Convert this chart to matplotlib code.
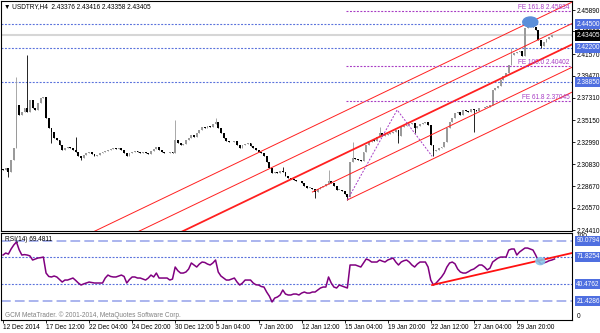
import numpy as np
import matplotlib.pyplot as plt
from matplotlib.patches import Ellipse

# USDTRY H4, 12 Dec 2014 - 30 Jan 2015
ohlc_title = "\u25bc USDTRY,H4  2.43376 2.43416 2.43358 2.43405"

first_open = 2.3040
closes = [
    2.3027, 2.3047, 2.3008, 2.3125, 2.3242, 2.3662, 2.3564, 2.3594, 2.3633, 2.3594,
    2.3711, 2.3633, 2.3613, 2.3681, 2.3730, 2.3740, 2.3535, 2.3437, 2.3398, 2.3340,
    2.3320, 2.3271, 2.3223, 2.3242, 2.3252, 2.3242, 2.3223, 2.3203, 2.3164, 2.3145,
    2.3174, 2.3193, 2.3203, 2.3184, 2.3164, 2.3174, 2.3193, 2.3203, 2.3213, 2.3223,
    2.3232, 2.3242, 2.3232, 2.3242, 2.3223, 2.3193, 2.3164, 2.3193, 2.3203, 2.3213,
    2.3203, 2.3193, 2.3203, 2.3193, 2.3184, 2.3213, 2.3232, 2.3252, 2.3223, 2.3203,
    2.3193, 2.3190, 2.3203, 2.3193, 2.3320, 2.3291, 2.3271, 2.3281, 2.3320, 2.3340,
    2.3369, 2.3350, 2.3389, 2.3418, 2.3447, 2.3437, 2.3457, 2.3447, 2.3477, 2.3496,
    2.3437, 2.3389, 2.3340, 2.3310, 2.3301, 2.3298, 2.3310, 2.3271, 2.3242, 2.3271,
    2.3281, 2.3291, 2.3262, 2.3242, 2.3223, 2.3203, 2.3193, 2.3164, 2.3105, 2.3047,
    2.2998, 2.3008, 2.2998, 2.3018, 2.3008, 2.2969, 2.2949, 2.2939, 2.2930, 2.2920,
    2.2917, 2.2900, 2.2871, 2.2852, 2.2855, 2.2842, 2.2813, 2.2842, 2.2862, 2.2871,
    2.2891, 2.2920, 2.2900, 2.2871, 2.2832, 2.2835, 2.2822, 2.2793, 2.2764, 2.3105,
    2.3145, 2.3135, 2.3125, 2.3115, 2.3203, 2.3271, 2.3301, 2.3320, 2.3310, 2.3350,
    2.3389, 2.3359, 2.3369, 2.3379, 2.3389, 2.3398, 2.3418, 2.3359, 2.3447, 2.3457,
    2.3467, 2.3477, 2.3486, 2.3437, 2.3457, 2.3477, 2.3486, 2.3496, 2.3467, 2.3271,
    2.3213, 2.3223, 2.3242, 2.3252, 2.3301, 2.3437, 2.3496, 2.3535, 2.3584, 2.3594,
    2.3564, 2.3613, 2.3603, 2.3594, 2.3623, 2.3613, 2.3603, 2.3633, 2.3630, 2.3642,
    2.3645, 2.3662, 2.3808, 2.3828, 2.3847, 2.3906, 2.3945, 2.3974, 2.4052, 2.4150,
    2.4169, 2.4179, 2.4189, 2.4140, 2.4413, 2.4472, 2.4452, 2.4423, 2.4394, 2.4296,
    2.4238, 2.4277, 2.4306, 2.4326, 2.4345, 2.43405,
]
# long wicks that stand out in the picture (bar index: price)
spike_highs = {5: 2.3935, 9: 2.4150, 27: 2.3350, 64: 2.3516, 79: 2.3535, 104: 2.3057,
               121: 2.3027, 130: 2.3301, 140: 2.3447, 189: 2.4218, 195: 2.4491}
spike_lows = {2: 2.2959, 18: 2.3291, 29: 2.3125, 116: 2.2754, 128: 2.2735, 147: 2.3291,
              153: 2.3389, 160: 2.3161, 175: 2.3398, 200: 2.4218}

rsi_values = [
    74.0, 76.3, 75.1, 80.9, 85.5, 88.9, 80.0, 74.0, 74.5, 74.0,
    73.0, 68.3, 69.5, 70.6, 71.0, 71.7, 53.4, 49.5, 48.9, 50.0,
    48.9, 46.0, 43.1, 45.4, 45.4, 46.5, 47.7, 45.0, 42.0, 39.7,
    41.0, 42.0, 43.1, 42.5, 42.0, 42.0, 42.0, 42.0, 47.7, 51.1,
    49.5, 48.9, 48.9, 50.0, 51.1, 49.5, 42.0, 46.0, 48.9, 48.9,
    47.7, 47.7, 46.5, 45.4, 47.7, 51.1, 48.9, 53.4, 47.7, 47.7,
    47.7, 47.7, 45.4, 46.5, 60.3, 56.0, 53.4, 53.4, 54.6, 58.0,
    64.9, 62.6, 60.3, 63.7, 66.0, 65.5, 63.7, 62.6, 64.9, 68.3,
    54.6, 50.0, 47.7, 45.4, 45.4, 46.5, 47.7, 43.1, 39.7, 42.0,
    45.4, 45.4, 45.4, 42.0, 40.0, 39.7, 38.0, 37.4, 31.7, 27.0,
    20.3, 24.8, 26.0, 28.3, 34.0, 29.4, 28.3, 28.3, 29.4, 29.4,
    28.3, 30.5, 31.7, 30.5, 30.5, 31.7, 31.7, 34.0, 36.3, 37.4,
    37.4, 48.9, 42.0, 37.4, 36.3, 39.7, 38.5, 37.4, 36.3, 62.6,
    62.6, 62.6, 61.5, 60.3, 65.0, 69.5, 68.3, 66.0, 66.0, 66.0,
    68.3, 67.0, 66.0, 68.3, 69.5, 70.6, 66.0, 62.6, 66.0, 67.5,
    68.3, 66.0, 62.6, 60.3, 63.7, 66.0, 66.0, 66.0, 60.3, 45.4,
    39.7, 42.0, 45.4, 48.9, 53.4, 60.3, 64.9, 66.0, 64.0, 58.0,
    54.6, 53.4, 53.4, 55.0, 56.9, 58.0, 60.3, 62.6, 62.6, 60.3,
    57.0, 59.0, 66.0, 68.3, 70.6, 71.7, 71.7, 71.7, 79.7, 80.9,
    80.9, 74.0, 77.5, 79.7, 82.0, 82.0, 80.9, 79.7, 74.0, 67.0,
    63.7, 65.0, 66.0, 67.5, 68.3, 69.48,
]

date_labels = ["12 Dec 2014", "17 Dec 12:00", "22 Dec 04:00", "24 Dec 20:00",
               "30 Dec 12:00", "5 Jan 04:00", "7 Jan 20:00", "12 Jan 12:00",
               "15 Jan 04:00", "19 Jan 20:00", "22 Jan 12:00", "27 Jan 04:00",
               "29 Jan 20:00"]
date_label_bars = [0, 16, 32, 48, 64, 79, 95, 111, 127, 143, 159, 175, 191]

price_ticks = [2.45890, 2.43800, 2.41570, 2.39470, 2.37310, 2.35150, 2.32990,
               2.30830, 2.28670, 2.26570, 2.24410]
line_levels = [2.44500, 2.42200, 2.38850]
bid_price = 2.43405

# Fibonacci expansion
fe_names = ["FE 161.8", "FE 100.0", "FE 61.8"]
fe_levels = [2.45834, 2.40402, 2.37045]
fe_anchor_bars = [128, 146.5, 159.5]
fe_anchor_prices = [2.2735, 2.3614, 2.3161]

# parallel channel lines (start point -> right edge)
channel_start_bars = [30, 45, 65, 115, 128]
channel_start_prices = [2.2379, 2.2360, 2.2407, 2.2813, 2.2735]
channel_end_bar = 211.5
channel_end_prices = [2.4666, 2.4457, 2.4253, 2.4030, 2.3787]

rsi_label = "RSI(14) 69.4811"
rsi_levels = [90.0794, 71.8254, 40.4762, 21.4286]
rsi_trend_bars = [159.5, 211.5]
rsi_trend_values = [39.7, 76.3]

copyright_text = "GCM MetaTrader. \u00a9 2001-2014, MetaQuotes Software Corp."

plt.rcParams['font.family'] = ['Liberation Sans', 'DejaVu Sans']
plt.rcParams['lines.scale_dashes'] = False
FS = 4.7
BLUE = '#5a72dc'
BOX_BLUE = '#4f6fe0'
PURPLE = '#a83cc4'
DOT = (0, (1.4, 1.1))


def price_box(ax, y, text, face):
    ax.text(1.0075, y, text, transform=ax.get_yaxis_transform(), fontsize=FS,
            color='white', va='center', ha='left', clip_on=False, zorder=6,
            bbox=dict(boxstyle='square,pad=0.25', fc=face, ec='none'))


fig = plt.figure(figsize=(6, 3.33), dpi=100)
W, H = 600, 333
ax = fig.add_axes([1 / W, (H - 231) / H, 571 / W, 230 / H])
ax_rsi = fig.add_axes([1 / W, (H - 320) / H, 571 / W, 87 / H], sharex=ax)

# ---- price panel ----
closes = np.array(closes)
opens = np.concatenate([[first_open], closes[:-1]])
highs = np.maximum(opens, closes)
lows = np.minimum(opens, closes)
for i, v in spike_highs.items():
    highs[i] = v
for i, v in spike_lows.items():
    lows[i] = v
bars = np.arange(len(closes))
up = closes >= opens
bull = '#9a9a9a'

ax.axhline(bid_price, color='#d6d6d6', lw=1.5, zorder=1)
for lv in line_levels:
    ax.axhline(lv, color=BLUE, lw=0.8, linestyle=DOT, zorder=1)

ax.vlines(bars[up], lows[up], highs[up], color=bull, lw=0.6, zorder=3)
ax.vlines(bars[~up], lows[~up], highs[~up], color='black', lw=0.6, zorder=3)
body = np.maximum(np.abs(closes - opens), 0.0007)
ax.bar(bars, body, bottom=np.minimum(opens, closes), width=0.7,
       color=np.where(up, bull, 'black'), linewidth=0, zorder=3)

for k in range(len(channel_start_bars)):
    lw = 1.3 if k == 2 else 0.7
    ax.plot([channel_start_bars[k], channel_end_bar],
            [channel_start_prices[k], channel_end_prices[k]],
            color='#ff2020', lw=lw, zorder=4)

ax.plot(fe_anchor_bars, fe_anchor_prices, color=PURPLE, lw=0.7, linestyle=DOT, zorder=4)
ax.hlines(fe_levels, fe_anchor_bars[0] - 0.5, channel_end_bar, colors=PURPLE,
          lw=0.8, linestyles=[DOT], zorder=4)
for name, lv in zip(fe_names, fe_levels):
    ax.text(0.996, lv, f"{name} {lv:.5f}", transform=ax.get_yaxis_transform(),
            fontsize=FS, color=PURPLE, ha='right', va='bottom', zorder=5)

ax.add_patch(Ellipse((196, 2.4472), 5.6, 0.0098, color='#5b8fd9', zorder=5))

ax.set_xlim(-0.75, channel_end_bar)
ax.set_ylim(2.2432, 2.4677)
ax.yaxis.tick_right()
ax.set_yticks(price_ticks)
ax.set_yticklabels([f"{t:.5f}" for t in price_ticks])
ax.tick_params(axis='y', direction='out', length=2, pad=1.5, labelsize=FS, width=0.6)
ax.tick_params(axis='x', bottom=False, labelbottom=False)
for sp in ax.spines.values():
    sp.set_linewidth(0.8)

for lv in line_levels:
    price_box(ax, lv, f"{lv:.5f}", BOX_BLUE)
price_box(ax, bid_price, f"{bid_price:.5f}", 'black')

fig.text(4 / W, 1 - 7 / H, ohlc_title, fontsize=FS, va='center', ha='left')

# ---- RSI panel ----
for lv in rsi_levels:
    if lv in (90.0794, 21.4286):
        ax_rsi.axhline(lv, color='#aab4ee', lw=1.4, linestyle=(0, (7, 3)), zorder=1)
    else:
        ax_rsi.axhline(lv, color=BLUE, lw=0.8, linestyle=DOT, zorder=1)

ax_rsi.plot(bars, rsi_values, color='#800080', lw=1.1, zorder=3)
ax_rsi.plot(rsi_trend_bars, rsi_trend_values, color='#ff1010', lw=1.3, zorder=4)
ax_rsi.add_patch(Ellipse((199.7, 67), 3.3, 8, color='#86c6ea', alpha=0.85, zorder=5))

ax_rsi.set_ylim(-0.3, 99.2)
ax_rsi.set_yticks([])
ax_rsi.set_xticks(date_label_bars)
ax_rsi.set_xticklabels(date_labels, ha='left')
ax_rsi.tick_params(axis='x', direction='out', length=2, pad=0.8, labelsize=FS, width=0.6)
for sp in ax_rsi.spines.values():
    sp.set_linewidth(0.8)

ax_rsi.text(1.0075, 99, "100", transform=ax_rsi.get_yaxis_transform(), fontsize=FS,
            va='top', ha='left', clip_on=False)
ax_rsi.text(1.0075, 0, "0", transform=ax_rsi.get_yaxis_transform(), fontsize=FS,
            va='bottom', ha='left', clip_on=False)
for lv in rsi_levels:
    price_box(ax_rsi, lv, f"{lv:.4f}", BOX_BLUE)

ax_rsi.text(4 / 571, 0.93, rsi_label, transform=ax_rsi.transAxes, fontsize=FS,
            va='center', ha='left')
ax_rsi.text(4 / 571, 0.05, copyright_text, transform=ax_rsi.transAxes, fontsize=FS,
            color='#808080', va='center', ha='left')

fig.savefig('out.png', dpi=100, facecolor='white')
